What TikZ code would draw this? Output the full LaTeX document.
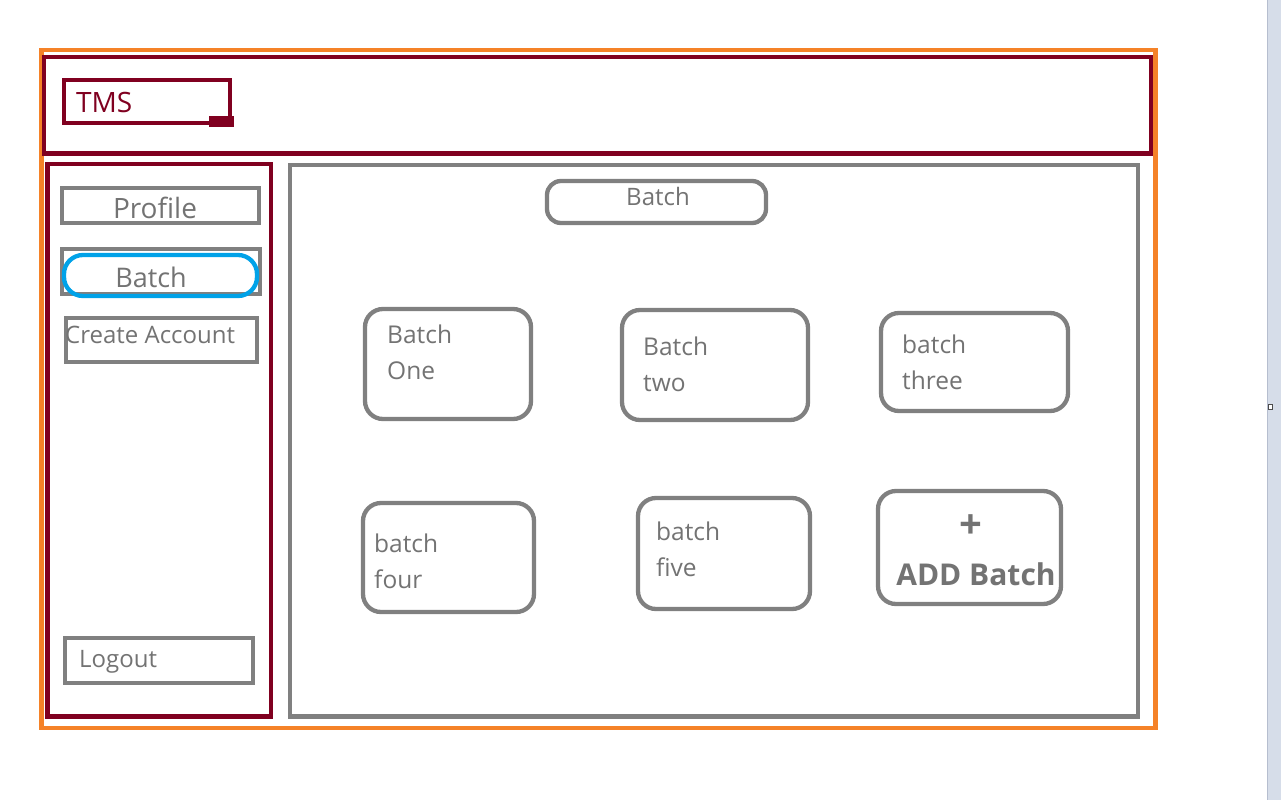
\documentclass[tikz,border=0pt]{standalone}
\usepackage{fontspec}
\setmainfont{Open Sans}
\usetikzlibrary{fit}
\definecolor{orangeC}{RGB}{245,130,40}
\definecolor{maroonC}{RGB}{128,0,32}
\definecolor{grayC}{RGB}{128,128,128}
\definecolor{grayT}{RGB}{115,115,115}
\definecolor{blueC}{RGB}{0,162,232}
\definecolor{barC}{RGB}{214,221,233}
\definecolor{barE}{RGB}{182,190,207}
\begin{document}
\begin{tikzpicture}[x=1pt,y=-1pt,
  frame/.style={draw, line width=4.3pt, inner sep=0pt, outer sep=0pt, rectangle},
  orangebox/.style={frame, draw=orangeC},
  maroonbox/.style={frame, draw=maroonC},
  graybox/.style={frame, draw=grayC},
  roundbox/.style={frame, draw=grayC, rounded corners=18pt},
  bluebox/.style={frame, draw=blueC, rounded corners=19pt},
  txt/.style={inner sep=0pt, text=grayT, anchor=base west},
  ctxt/.style={inner sep=0pt, text=grayT, anchor=base},
  boxfont/.style={font=\fontsize{24.5}{36}\selectfont},
]
\useasboundingbox (0,0) rectangle (1281,800);
\fill[white] (0,0) rectangle (1281,800);

% window scrollbar strip
\fill[barC] (1267,0) rectangle (1281,800);
\draw[barE, line width=1pt] (1267.5,0) -- (1267.5,800);
\node[draw=black!70, fill=white, line width=0.8pt, inner sep=0pt, minimum width=4.5pt, minimum height=4.5pt] (handle) at (1270.5,407) {};

% outer frames
\node[orangebox, fit={(41.5,50) (1155.5,728)}] (outer) {};
\node[maroonbox, fit={(44,57) (1151,153.5)}] (header) {};
\node[maroonbox, fit={(47.5,164) (271,716.5)}] (sidebar) {};
\node[graybox, fit={(290,165) (1138,716.5)}] (main) {};

% TMS logo box
\node[maroonbox, fit={(64,80) (230,123)}] (tmsbox) {};
\fill[maroonC] (209,116) rectangle (234,127) node[inner sep=0pt] (tmsmark) {};
\node[txt, text=maroonC, font=\fontsize{28}{32}\selectfont] (tms) at (76,112) {TMS};

% sidebar menu
\node[graybox, fit={(62,188) (259,223)}] (profilebox) {};
\node[ctxt, font=\fontsize{28}{32}\selectfont] (profile) at (155,218) {Profile};

\node[graybox, fit={(62,249) (260,294)}] (batchbox) {};
\node[bluebox, fit={(64,255) (257,296)}] (batchsel) {};
\node[ctxt, font=\fontsize{27}{32}\selectfont] (batchside) at (151,287) {Batch};

\node[graybox, fit={(66,318) (257,362)}] (createbox) {};
\node[txt, font=\fontsize{24}{30}\selectfont] (create) at (65,343) {Create Account};

\node[graybox, fit={(65,638) (253,683)}] (logoutbox) {};
\node[txt, font=\fontsize{24}{30}\selectfont] (logout) at (79,667) {Logout};

% main area title
\node[frame, draw=grayC, rounded corners=14pt, fit={(547,181) (766,223)}] (titlebox) {};
\node[ctxt, font=\fontsize{24}{30}\selectfont] (title) at (658,205) {Batch};

% batch cards
\node[roundbox, fit={(365,309) (531,419)}] (b1) {};
\node[txt, boxfont] (b1a) at (387,343) {Batch};
\node[txt, boxfont] (b1b) at (387,379) {One};

\node[roundbox, fit={(622,310) (808,420)}] (b2) {};
\node[txt, boxfont] (b2a) at (643,355) {Batch};
\node[txt, boxfont] (b2b) at (643,391) {two};

\node[roundbox, fit={(881,313) (1068,411)}] (b3) {};
\node[txt, boxfont] (b3a) at (902,353) {batch};
\node[txt, boxfont] (b3b) at (902,389) {three};

\node[roundbox, fit={(363,503) (534,612)}] (b4) {};
\node[txt, boxfont] (b4a) at (374,552) {batch};
\node[txt, boxfont] (b4b) at (374,588) {four};

\node[roundbox, fit={(638,498) (810,609)}] (b5) {};
\node[txt, boxfont] (b5a) at (656,540) {batch};
\node[txt, boxfont] (b5b) at (656,576) {five};

\node[roundbox, fit={(878,491) (1061,604)}] (add) {};
\node[ctxt, font=\bfseries\fontsize{40}{44}\selectfont] (plus) at (971,538) {+};
\node[ctxt, font=\bfseries\fontsize{30}{34}\selectfont] (addtxt) at (976,585) {ADD Batch};
\end{tikzpicture}
\end{document}
